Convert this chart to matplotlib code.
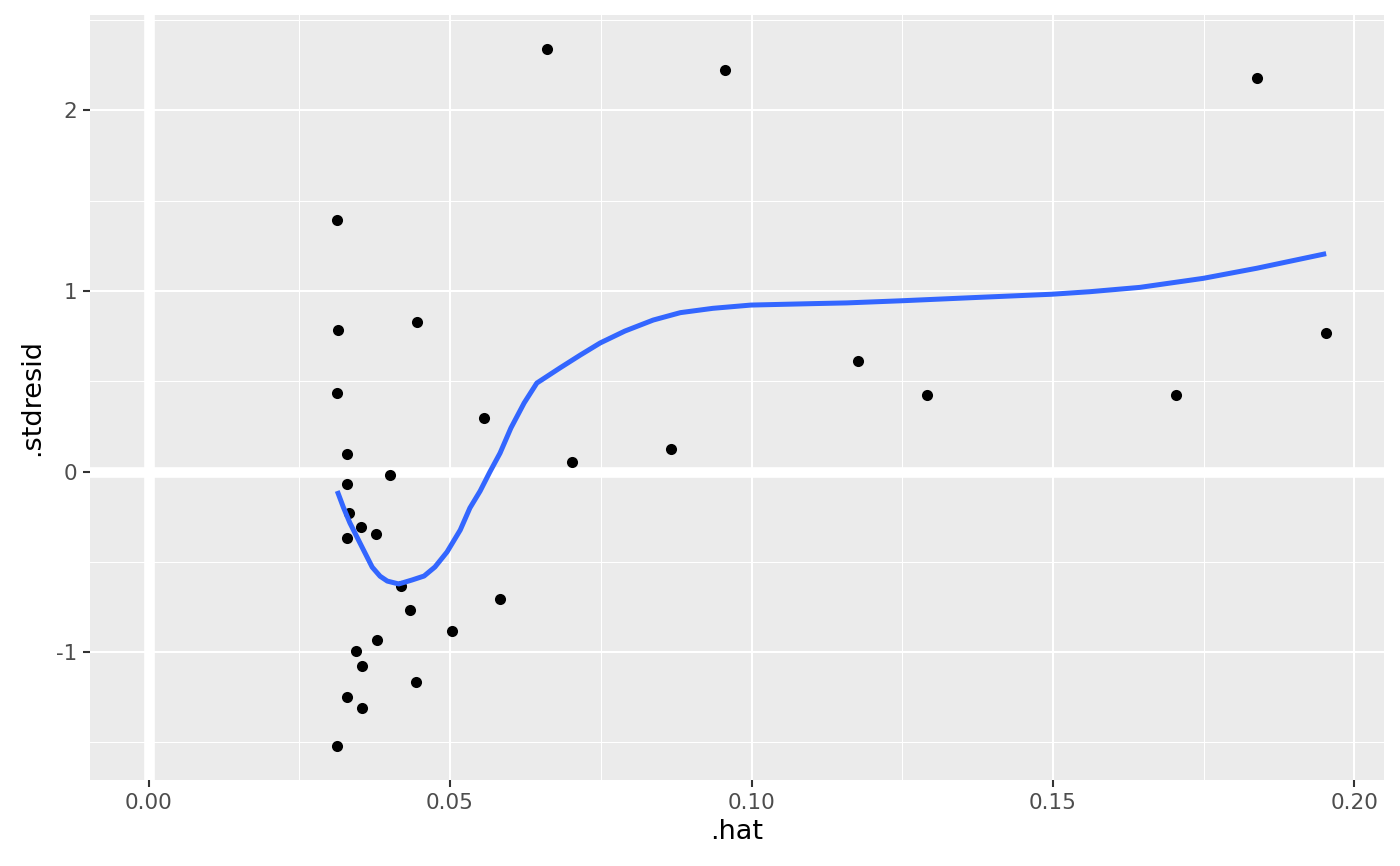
"""
Residuals vs leverage (.stdresid against .hat) with a loess-style smooth,
drawn in a ggplot2 grey theme.
"""

import matplotlib.pyplot as plt
from matplotlib.ticker import MultipleLocator

# observed points
hat = [0.0661, 0.0956, 0.1838, 0.0313, 0.0314, 0.0445, 0.0313, 0.1953,
       0.1177, 0.1291, 0.1704, 0.0556, 0.0702, 0.0867, 0.0329, 0.0401,
       0.0329, 0.0333, 0.0352, 0.0377, 0.0329, 0.0419, 0.0433, 0.0583,
       0.0503, 0.0379, 0.0344, 0.0354, 0.0443, 0.0329, 0.0354, 0.0313]
stdresid = [2.341, 2.224, 2.180, 1.393, 0.784, 0.828, 0.435, 0.769,
            0.612, 0.424, 0.424, 0.296, 0.053, 0.125, 0.099, -0.018,
            -0.068, -0.232, -0.309, -0.346, -0.368, -0.634, -0.769, -0.708,
            -0.882, -0.934, -0.994, -1.076, -1.166, -1.248, -1.309, -1.519]

# smooth curve
smooth_x = [0.0313, 0.0323, 0.0334, 0.0354, 0.0371, 0.0384, 0.0396, 0.0415,
            0.0437, 0.0457, 0.0475, 0.0495, 0.0517, 0.0533, 0.0550, 0.0566,
            0.0583, 0.0601, 0.0623, 0.0644, 0.0682, 0.0716, 0.0749, 0.0790,
            0.0837, 0.0882, 0.0936, 0.0999, 0.1102, 0.1158, 0.1250, 0.1379,
            0.1498, 0.1561, 0.1644, 0.1749, 0.1838, 0.1953]
smooth_y = [-0.108, -0.197, -0.285, -0.418, -0.530, -0.580, -0.607, -0.623,
            -0.601, -0.579, -0.529, -0.446, -0.324, -0.202, -0.108, -0.003,
            0.102, 0.241, 0.380, 0.490, 0.573, 0.645, 0.712, 0.778,
            0.839, 0.880, 0.904, 0.922, 0.930, 0.934, 0.946, 0.965,
            0.982, 0.996, 1.020, 1.070, 1.126, 1.207]

xticks = [0.00, 0.05, 0.10, 0.15, 0.20]
xtick_labels = ["0.00", "0.05", "0.10", "0.15", "0.20"]
yticks = [-1, 0, 1, 2]
ytick_labels = ["-1", "0", "1", "2"]

fig = plt.figure(figsize=(14, 8.66), dpi=100)
ax = fig.add_axes([0.0643, 0.0993, 0.9243, 0.8834])
ax.set_facecolor("#EBEBEB")
for s in ax.spines.values():
    s.set_visible(False)

ax.set_xlim(-0.0097, 0.2049)
ax.set_ylim(-1.709, 2.529)

ax.set_xticks(xticks)
ax.set_xticklabels(xtick_labels)
ax.set_yticks(yticks)
ax.set_yticklabels(ytick_labels)
ax.xaxis.set_minor_locator(MultipleLocator(0.025))
ax.yaxis.set_minor_locator(MultipleLocator(0.5))

ax.set_axisbelow(True)
ax.grid(which="major", color="white", linewidth=1.5)
ax.grid(which="minor", color="white", linewidth=0.75)
ax.tick_params(which="major", length=5, width=1.5, color="#333333",
               labelcolor="#4D4D4D", labelsize=15.5, pad=4)
ax.tick_params(which="minor", length=0)

# reference lines
ax.axhline(0, color="white", linewidth=7.7, zorder=1)
ax.axvline(0, color="white", linewidth=7.7, zorder=1)

ax.scatter(hat, stdresid, s=64, color="black", linewidths=0, zorder=3)
ax.plot(smooth_x, smooth_y, color="#3366FF", linewidth=3.6, zorder=4,
        solid_capstyle="butt")

ax.set_xlabel(".hat", fontsize=19.5, labelpad=5)
ax.set_ylabel(".stdresid", fontsize=19.5, labelpad=8)

fig.savefig("out.png", dpi=100, facecolor="white")
